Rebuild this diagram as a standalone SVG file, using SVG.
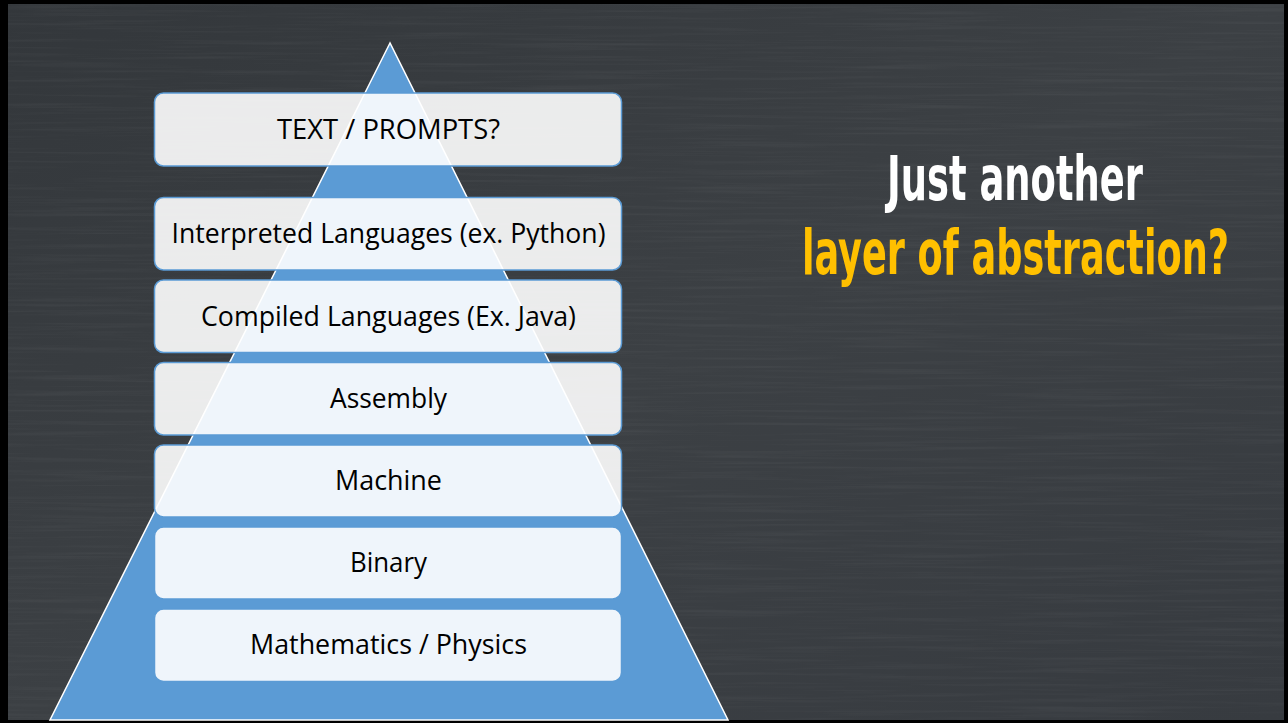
<svg xmlns="http://www.w3.org/2000/svg" width="1288" height="723" viewBox="0 0 1288 723">
  <defs>
    <style>
      .box { fill: #ffffff; fill-opacity: 0.9; stroke: #5b9bd5; stroke-width: 1.5; }
      .lbl { font-family: "Open Sans", "Noto Sans", "Liberation Sans", sans-serif; font-size: 27px; fill: #000000; text-anchor: middle; }
      .title { font-family: "DejaVu Sans Condensed", "DejaVu Sans", "Liberation Sans", sans-serif; font-weight: bold; font-stretch: condensed; font-size: 63px; text-anchor: middle; }
    </style>
    <linearGradient id="bg" x1="0" y1="0" x2="1" y2="1">
      <stop offset="0" stop-color="#33373b"/>
      <stop offset="0.5" stop-color="#3c4044"/>
      <stop offset="1" stop-color="#373b40"/>
    </linearGradient>
    <filter id="grain" x="0" y="0" width="100%" height="100%">
      <feTurbulence type="fractalNoise" baseFrequency="0.006 0.3" numOctaves="3" seed="7" result="n"/>
      <feColorMatrix type="matrix" values="0 0 0 0 1  0 0 0 0 1  0 0 0 0 1  1.2 0 0 0 -0.55"/>
    </filter>
  </defs>
  <rect x="0" y="0" width="1288" height="723" fill="#000000"/>
  <g id="background">
    <rect x="8" y="4" width="1276" height="716" fill="url(#bg)"/>
    <rect x="8" y="4" width="1276" height="716" filter="url(#grain)" opacity="0.08"/>
  </g>
  <g id="pyramid">
    <polygon points="390,43 50,720 728,720" fill="#5b9bd5" stroke="#ffffff" stroke-width="1.5" stroke-linejoin="miter"/>
  </g>
  <g id="connectors"></g>
  <g id="node-text-prompts">
    <rect class="box" x="154.5" y="93" width="467" height="73" rx="9"/>
    <text class="lbl" x="388.5" y="139" textLength="223" lengthAdjust="spacingAndGlyphs">TEXT / PROMPTS?</text>
  </g>
  <g id="node-interpreted">
    <rect class="box" x="154.5" y="197.5" width="467" height="72.5" rx="9"/>
    <text class="lbl" x="388.5" y="243" textLength="434" lengthAdjust="spacingAndGlyphs">Interpreted Languages (ex. Python)</text>
  </g>
  <g id="node-compiled">
    <rect class="box" x="154.5" y="280" width="467" height="72.5" rx="9"/>
    <text class="lbl" x="388.5" y="325.5" textLength="375" lengthAdjust="spacingAndGlyphs">Compiled Languages (Ex. Java)</text>
  </g>
  <g id="node-assembly">
    <rect class="box" x="154.5" y="362.5" width="467" height="72.5" rx="9"/>
    <text class="lbl" x="388.5" y="408" textLength="117" lengthAdjust="spacingAndGlyphs">Assembly</text>
  </g>
  <g id="node-machine">
    <rect class="box" x="154.5" y="445" width="467" height="72" rx="9"/>
    <text class="lbl" x="388.5" y="490" textLength="107" lengthAdjust="spacingAndGlyphs">Machine</text>
  </g>
  <g id="node-binary">
    <rect class="box" x="154.5" y="527" width="467" height="72" rx="9"/>
    <text class="lbl" x="388.5" y="572" textLength="77" lengthAdjust="spacingAndGlyphs">Binary</text>
  </g>
  <g id="node-math">
    <rect class="box" x="154.5" y="609" width="467" height="72.5" rx="9"/>
    <text class="lbl" x="388.5" y="654" textLength="277" lengthAdjust="spacingAndGlyphs">Mathematics / Physics</text>
  </g>
  <g id="title">
    <g transform="translate(1015,200) scale(0.6,1)">
      <text class="title" x="0" y="0" fill="#ffffff" textLength="426.7" lengthAdjust="spacingAndGlyphs">Just another</text>
    </g>
    <g transform="translate(1015.5,274) scale(0.6,1)">
      <text class="title" x="0" y="0" fill="#ffc000" textLength="711.7" lengthAdjust="spacingAndGlyphs">layer of abstraction?</text>
    </g>
  </g>
</svg>
